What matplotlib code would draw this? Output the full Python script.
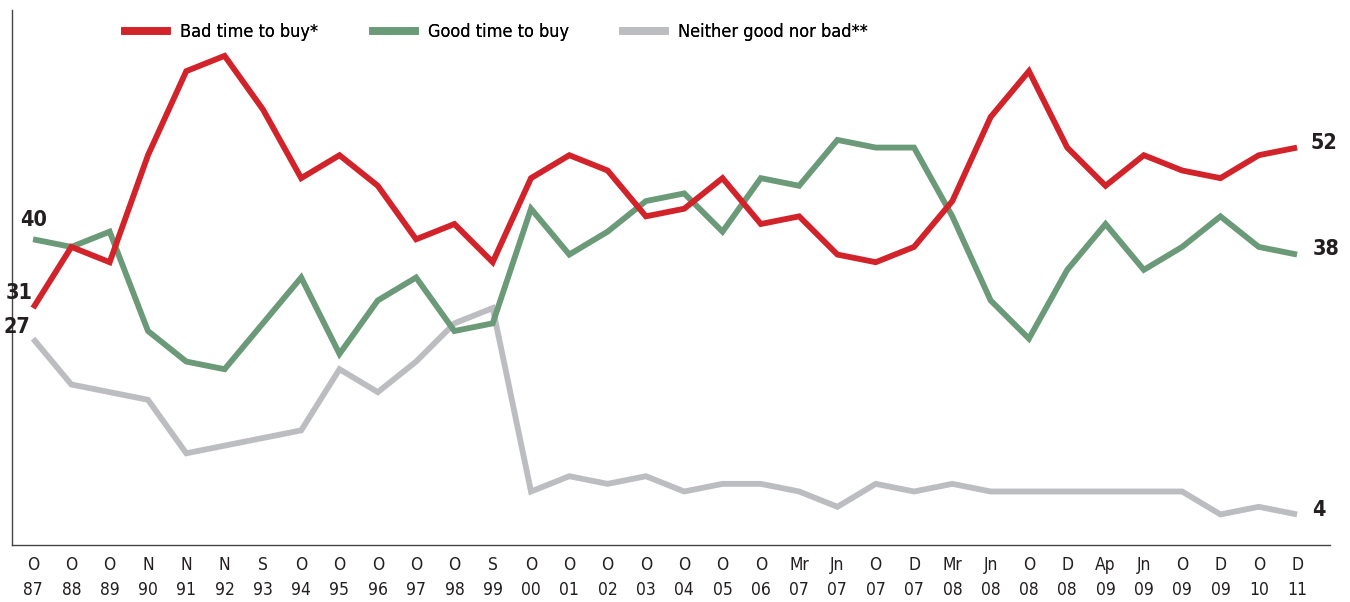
import matplotlib
matplotlib.use("Agg")
import matplotlib.pyplot as plt
from matplotlib.lines import Line2D

plt.rcParams['font.family'] = ['DejaVu Sans']
plt.rcParams['font.stretch'] = 'condensed'

months = ["O","O","O","N","N","N","S","O","O","O","O","O","S","O","O","O","O","O","O","O",
          "Mr","Jn","O","D","Mr","Jn","O","D","Ap","Jn","O","D","O","D"]
years = ["87","88","89","90","91","92","93","94","95","96","97","98","99","00","01","02","03","04",
         "05","06","07","07","07","07","08","08","08","08","09","09","09","09","10","11"]

bad = [31,39,37,51,62,64,57,48,51,47,40,42,37,48,51,49,43,44,48,42,43,38,37,39,45,56,62,52,47,51,49,48,51,52]
good = [40,39,41,28,24,23,29,35,25,32,35,28,29,44,38,41,45,46,41,48,47,53,52,52,43,32,27,36,42,36,39,43,39,38]
neither = [27,21,20,19,12,13,14,15,23,20,24,29,31,7,9,8,9,7,8,8,7,5,8,7,8,7,7,7,7,7,7,4,5,4]

series_names = ["Bad time to buy*", "Good time to buy", "Neither good nor bad**"]

RED = "#d2232a"
GREEN = "#6a9a78"
GRAY = "#bcbdc0"

fig = plt.figure(figsize=(13.5, 6.02), dpi=100)
ax = fig.add_axes([12/1350, 57/602, (1330-12)/1350, (545-10)/602])

x = list(range(len(months)))
lw = 4.2
ax.plot(x, neither, color=GRAY, lw=lw, solid_joinstyle='miter', solid_capstyle='butt')
ax.plot(x, good, color=GREEN, lw=lw, solid_joinstyle='miter', solid_capstyle='butt')
ax.plot(x, bad, color=RED, lw=lw, solid_joinstyle='miter', solid_capstyle='butt')

ax.set_xlim(-0.55, 33.86)
ax.set_ylim(0, 70)
ax.set_yticks([])
ax.set_xticks(x)
ax.set_xticklabels([f"{m}\n{y}" for m, y in zip(months, years)], fontsize=12.5,
                   linespacing=1.5, color="#231f20")
ax.tick_params(axis='x', length=0, pad=8)
for s in ['top', 'right']:
    ax.spines[s].set_visible(False)
for s in ['left', 'bottom']:
    ax.spines[s].set_color("#444444")
    ax.spines[s].set_linewidth(1.0)

lab = dict(fontsize=15.5, fontweight='bold', color="#231f20")
ax.text(0.0, good[0] + 1.2, f"{good[0]}", ha='center', va='bottom', **lab)
ax.text(-0.35, bad[0] + 0.7, f"{bad[0]}", ha='center', va='bottom', **lab)
ax.text(-0.42, neither[0] + 0.2, f"{neither[0]}", ha='center', va='bottom', **lab)
ax.text(33.35, bad[-1] + 0.6, f"{bad[-1]}", ha='left', va='center', **lab)
ax.text(33.4, good[-1] + 0.7, f"{good[-1]}", ha='left', va='center', **lab)
ax.text(33.4, neither[-1] + 0.6, f"{neither[-1]}", ha='left', va='center', **lab)

# legend entries, one per series, placed like the reference
leg_x = [125, 373, 623]
for name, col, lx in zip(series_names, [RED, GREEN, GRAY], leg_x):
    leg = fig.legend([Line2D([], [], color=col, lw=5.5)], [name],
                     loc='center left', bbox_to_anchor=(lx/1350, 1 - 32/602),
                     frameon=False, fontsize=13, handlelength=2.3, handletextpad=0.75,
                     borderpad=0, borderaxespad=0)
    fig.add_artist(leg)

fig.savefig("out.png", dpi=100)
